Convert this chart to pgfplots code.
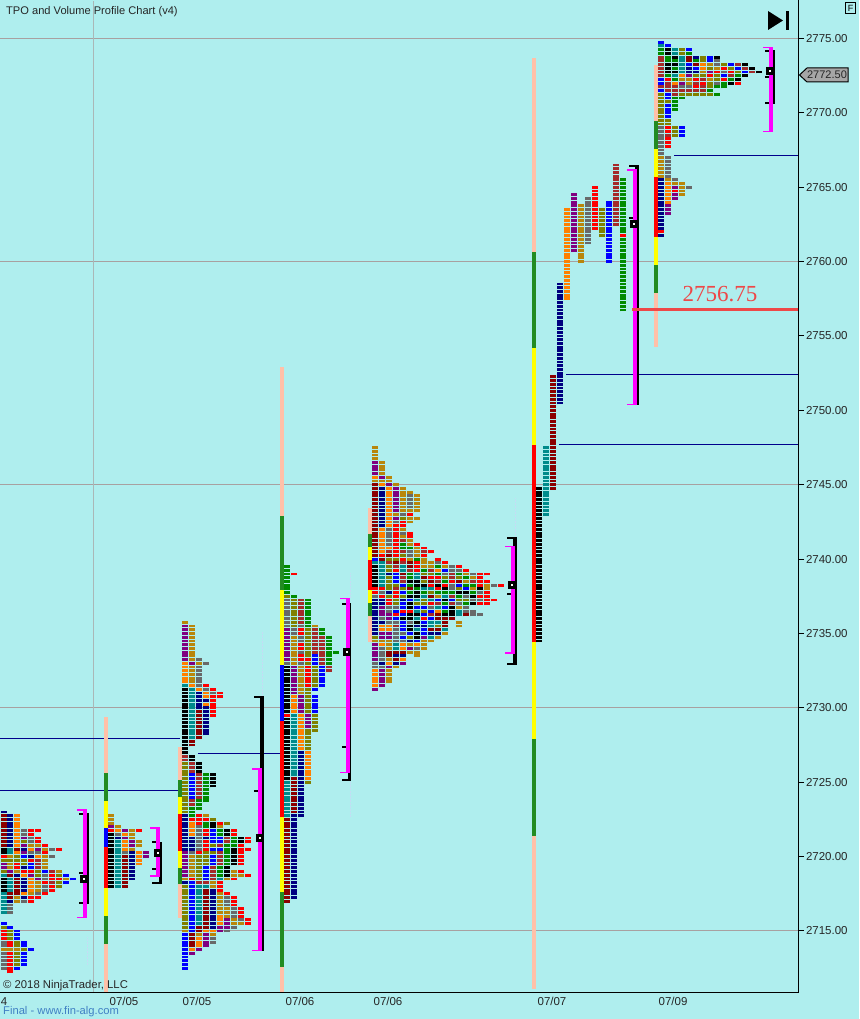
\documentclass[border=0pt]{standalone}
\usepackage{pgfplots}
\pgfplotsset{compat=1.18}
\usepackage{fontspec}
\setmainfont{Liberation Sans}
\newfontfamily\tfont{Liberation Serif}
\definecolor{bgc}{HTML}{AFEEEE}
\definecolor{gridc}{HTML}{A8A0A0}
\definecolor{nvc}{HTML}{000080}
\definecolor{blc}{HTML}{0000FF}
\definecolor{tec}{HTML}{008B8B}
\definecolor{drc}{HTML}{8B0000}
\definecolor{brc}{HTML}{A52A2A}
\definecolor{rdc}{HTML}{FF0000}
\definecolor{ogc}{HTML}{FF8000}
\definecolor{goc}{HTML}{B8860B}
\definecolor{olc}{HTML}{808000}
\definecolor{gyc}{HTML}{696969}
\definecolor{puc}{HTML}{800080}
\definecolor{gnc}{HTML}{008B00}
\definecolor{fgc}{HTML}{228B22}
\definecolor{pkc}{HTML}{FFC0A8}
\definecolor{lnc}{HTML}{00008B}
\definecolor{fbc}{HTML}{C4DCF4}
\definecolor{lrc}{HTML}{EE4848}
\definecolor{ylc}{HTML}{FFFF00}
\definecolor{mgc}{HTML}{FF00FF}
\pgfplotsset{tpo/.style={line width=6pt,dash pattern=on 2.85pt off 0.86875pt,no markers}}
% one column of a profile: x and top price, then colour runs (rows of 0.25) going down
\newcount\rowno
\def\cx{0}
\newcommand\X[2]{\gdef\cx{#1}\pgfmathtruncatemacro\tmp{round(#2*4)}\global\rowno=\tmp\relax}
\newcommand\Run[2]{%
  \pgfmathsetmacro\hi{\the\rowno/4+0.0958}%
  \global\advance\rowno by -#2\relax
  \pgfmathsetmacro\lo{(\the\rowno+1)/4-0.0958}%
  \addplot[tpo,#1] coordinates {(\cx,\lo)(\cx,\hi)};}
\def\Sk#1{\global\advance\rowno by -#1\relax}
\def\Nv#1{\Run{nvc}{#1}}
\def\Bl#1{\Run{blc}{#1}}
\def\Te#1{\Run{tec}{#1}}
\def\Bk#1{\Run{black}{#1}}
\def\Dr#1{\Run{drc}{#1}}
\def\Br#1{\Run{brc}{#1}}
\def\Rd#1{\Run{rdc}{#1}}
\def\Og#1{\Run{ogc}{#1}}
\def\Go#1{\Run{goc}{#1}}
\def\Ol#1{\Run{olc}{#1}}
\def\Gy#1{\Run{gyc}{#1}}
\def\Pu#1{\Run{puc}{#1}}
\def\Gn#1{\Run{gnc}{#1}}
% solid bar, horizontal line, point of control
\newcommand\V[5]{\addplot[#1,line width=#5pt,no markers] coordinates {(#2,#3)(#2,#4)};}
\newcommand\Hl[5]{\addplot[#1,line width=#5pt,no markers] coordinates {(#2,#4)(#3,#4)};}
\newcommand\Poc[2]{\addplot[only marks,mark=square*,mark size=2.5pt,mark options={fill=white,draw=black,line width=3pt}] coordinates {(#1,#2)};}
\newcommand\Fb[3]{\addplot[fbc,line width=1pt,dash pattern=on 2pt off 1pt,no markers] coordinates {(#1,#2)(#1,#3)};}
\begin{document}
\begin{tikzpicture}
\path[use as bounding box,fill=bgc] (0pt,-26pt) rectangle (859pt,993pt);
\begin{axis}[
    scale only axis,
    width=798pt,height=993pt,
    xmin=0,xmax=798,
    ymin=2710.832,ymax=2777.588,
    axis x line*=bottom,axis y line*=right,
    axis line style={black,line width=1pt,-},
    xtick={4,124,197,300,388,552,673},
    xticklabels={4,07/05,07/05,07/06,07/06,07/07,07/09},
    ytick={2715,2720,2725,2730,2735,2740,2745,2750,2755,2760,2765,2770,2775},
    tick align=outside,
    major tick length=6pt,
    x tick style={draw=none},
    y tick style={black,line width=1pt},
    tick label style={font=\fontsize{11.5}{12}\selectfont,text=black!85},
    xticklabel style={yshift=5pt},
    yticklabel style={xshift=-1.5pt},
    /pgf/number format/assume math mode=true,
    y tick label style={/pgf/number format/.cd,fixed,fixed zerofill,precision=2,1000 sep={}},
]
% grid every 15 points, one vertical
\Hl{gridc}{0}{798}{2775}{1}
\Hl{gridc}{0}{798}{2760}{1}
\Hl{gridc}{0}{798}{2745}{1}
\Hl{gridc}{0}{798}{2730}{1}
\Hl{gridc}{0}{798}{2715}{1}
\V{gridc!70!bgc}{93.5}{2710.9}{2777.5}{1}
% level lines
\Hl{lnc}{0}{180}{2727.94}{1}
\Hl{lnc}{0}{180}{2724.45}{1}
\Hl{lnc}{198}{281}{2726.93}{1}
\Hl{lnc}{674}{798}{2767.13}{1}
\Hl{lnc}{566}{798}{2752.41}{1}
\Hl{lnc}{559}{798}{2747.71}{1}
% faint wicks
\Fb{262.7}{2730.7}{2735.1}
\Fb{87.5}{2712.7}{2714.6}
\Fb{350.5}{2737.4}{2739.07}
\Fb{350.5}{2722.66}{2725.15}
\Fb{515.5}{2741.4}{2744.1}
% profile 07/04 upper
\X{3.5}{2723}\Nv1\Dr9\Bk2\Rd1\Ol1\Pu2\Ol1\Te1\Bk4\Te6
\X{10}{2722.75}\Nv9\Te2\Go1\Ol1\Go2\Pu1\Dr1\Te4\Dr2\Nv1\Gy3
\X{17}{2722.75}\Og9\Dr1\Og1\Ol2\Rd2\Go1\Nv1\Dr5\Go2
\X{24}{2721.75}\Gy2\Pu1\Ol1\Pu1\Nv1\Pu1\Bl1\Ol2\Nv1\Rd1\Og1\Nv4\Og1\Nv1\Gy1
\X{31}{2721.75}\Rd2\Gy2\Go1\Og1\Gy1\Nv1\Rd1\Bl2\Rd1\Pu1\Og4\Go1\Rd2
\X{38}{2721.75}\Rd1\Sk1\Rd2\Go1\Pu1\Gy1\Og1\Br3\Ol2\Pu1\Go3\Gy1\Rd1
\X{45}{2720.75}\Rd1\Go1\Rd1\Go4\Bl1\Gy2\Rd1\Gy2\Rd1
\X{52}{2720.5}\Gy1\Sk1\Gy1\Sk3\Br1\Rd2\Br1\Rd2
\X{59}{2720.5}\Rd1\Sk5\Go1\Ol1\Rd1\Ol2
\X{66}{2718.75}\Bl1\Go1\Bl1
\X{73}{2718.5}\Bl1
% profile 07/04 lower
\X{3.5}{2715.5}\Bl1\Ol1\Rd3\Gy2\Go1\Gy5
\X{10}{2715.25}\Bl1\Ol3\Rd2\Go1\Rd6
\X{17}{2715}\Bl3\Ol2\Go1\Ol4\Bl1
\X{24}{2714.25}\Bl2\Ol1\Bl4
\X{31}{2713.75}\Bl1
% profile 07/05 first
\X{111}{2722.75}\Go3\Pu1\Rd1\Bk{15}
\X{118}{2722}\Go1\Og1\Gy1\Nv1\Te{13}
\X{125}{2721.75}\Pu1\Og1\Pu1\Og3\Gy1\Dr9
\X{132}{2721.75}\Go3\Pu2\Go1\Nv8
\X{139}{2721.75}\Rd1\Sk2\Go2\Sk1\Og4
\X{146}{2720.25}\Pu2
% profile 07/05 second
\X{185}{2735.75}\Go1\Pu{10}\Og6\Te1\Bk{18}\Br2\Ol{14}\Nv9\Nv1\Pu7\Go1\Nv1\Ol{12}\Go1\Bl{10}
\X{192}{2735.5}\Go{10}\Pu1\Go5\Og1\Te{14}\Dr2\Sk2\Bk2\Br3\Bl7\Br2\Gn3\Rd1\Og4\Nv4\Gy1\Go6\Rd1\Bl{14}\Dr4\Og1\Pu1
\X{199}{2733.25}\Gy1\Go1\Gy6\Og1\Nv5\Dr8\Sk6\Bk3\Br7\Gn3\Sk1\Rd3\Gy7\Rd1\Ol7\Br1\Te{11}\Dr2\Go1\Og3\Pu1
\X{206}{2733}\Gy1\Sk5\Rd1\Gy1\Og2\Nv1\Og1\Nv8\Sk{10}\Gn8\Sk3\Go1\Rd1\Gn2\Rd2\Nv1\Rd3\Ol4\Bl4\Br1\Te1\Dr{11}\Og1\Pu4
\X{213}{2731.25}\Rd1\Gy1\Rd6\Sk{15}\Bk4\Sk8\Ol1\Bk2\Bl4\Ol1\Bl1\Ol1\Bl3\Br4\Go2\Nv{11}\Og1\Go1\Gy2
\X{220}{2731}\Rd2\Sk{33}\Rd1\Go1\Gn2\Bl2\Br1\Bl1\Br4\Gn3\Te1\Rd3\Go6\Og3\Pu2
\X{227}{2722.25}\Ol1\Sk1\Bk2\Br2\Gn6\Bk3\Go1\Sk3\Rd1\Gy3\Go3\Pu3\Gy1
\X{234}{2721.75}\Rd2\Gn3\Bk5\Sk1\Go2\Rd1\Sk4\Rd3\Gy3\Go2\Gy1
\X{241}{2721.25}\Bk2\Rd6\Sk1\Rd1\Go1\Sk8\Rd3\Gy1\Go1
\X{248}{2721.25}\Rd2\Sk1\Rd1\Sk6\Rd1\Sk{11}\Rd2
% profile 07/06 first
\X{287}{2739.5}\Gn8\Ol1\Gy8\Pu9\Gy1\Bk{13}\Rd1\Bk{17}\Te{10}\Dr{23}
\X{294}{2739}\Rd1
\X{294}{2737.5}\Gn1\Ol8\Gy2\Go8\Pu8\Og5\Te{17}\Dr{10}\Nv{23}
\X{301}{2737.25}\Br7\Gy1\Rd2\Gy2\Rd2\Gy1\Rd2\Gy1\Go8\Pu5\Og{10}\Nv{18}
\X{308}{2737.25}\Gn8\Ol8\Rd1\Ol1\Rd6\Ol7\Pu4\Ol6\Og8\Ol1
\X{315}{2735.5}\Go1\Br7\Bl3\Ol6\Bl1\Sk1\Bl5\Ol5
\X{322}{2735.25}\Gn2\Br8\Bl6
\X{329}{2734.75}\Gn8\Br2
\X{336}{2733.75}\Gn1
% profile 07/06 second
\X{375}{2747.5}\Go4\Pu4\Og1\Go1\Dr{20}\Bl1\Te1\Bk6\Rd2\Gy1\Nv{10}\Ol1\Go1\Pu5\Gy2\Og5\Pu1
\X{382}{2746.5}\Go4\Pu1\Go1\Og1\Nv{11}\Og7\Rd1\Dr1\Te7\Rd1\Gy1\Rd1\Nv2\Pu3\Gy1\Nv1\Og2\Pu2\Go1\Og1\Gy4\Nv1\Gy1\Pu5
\X{389}{2745.5}\Go2\Pu1\Og{11}\Gy5\Og1\Br1\Dr1\Ol1\Br1\Ol2\Nv1\Ol4\Nv1\Ol1\Rd2\Gy2\Pu2\Gy1\Og2\Pu2\Go3\Dr2\Go1\Og1\Pu1\Go4
\X{396}{2745}\Go1\Pu7\Go1\Pu1\Gy1\Rd9\Ol1\Dr1\Br1\Rd1\Bl3\Ol1\Br1\Rd2\Ol2\Gy1\Bl1\Rd1\Bl1\Gy1\Br1\Gy4\Te2\Dr1\Nv1\Dr1\Nv1\Go1
\X{403}{2744.75}\Go7\Gy1\Ol1\Rd2\Go1\Gy1\Go1\Br1\Gn2\Br1\Ol1\Rd1\Br1\Te2\Dr1\Br2\Bl1\Ol1\Bl1\Ol1\Nv1\Bl2\Rd1\Bl1\Bk1\Bl3\Gy1\Bl1\Gy1\Og2\Dr1\Nv1\Og1\Pu1
\X{410}{2744.5}\Go1\Gy4\Go1\Rd1\Go2\Sk2\Rd2\Go2\Gn1\Gy2\Go1\Dr2\Br1\Gn2\Bk1\Gn1\Dr1\Gn1\Bk1\Bl1\Bk2\Rd1\Bk2\Gy1\Bk2\Bl1\Ol1\Nv1\Go1\Pu1\Go1
\X{417}{2744.25}\Go5\Sk1\Go1\Sk6\Rd1\Go3\Gn1\Rd3\Te2\Bk2\Gn1\Bk2\Te1\Ol1\Bl1\Te1\Bk1\Te1\Bk1\Nv1\Te1\Bk2\Bl1\Og1\Gy1\Go2
\X{424}{2740.75}\Rd1\Br1\Rd1\Go3\Gn1\Ol1\Dr1\Ol1\Bk1\Te1\Gn1\Te1\Ol2\Bl1\Ol1\Bl1\Rd1\Bl1\Nv1\Bl2\Pu1\Go3
\X{431}{2740.5}\Rd1\Sk2\Go2\Br1\Ol1\Rd1\Dr1\Rd1\Te1\Ol1\Dr1\Te1\Rd1\Gy1\Bl1\Br1\Bl1\Te2\Dr1\Nv1\Te1\Go1
\X{438}{2740}\Rd1\Gy1\Gn1\Og1\Gn1\Rd1\Br1\Bk1\Rd1\Gn1\Go1\Bl1\Br1\Te1\Og1\Dr2\Te1\Ol1\Dr1\Nv1\Go1
\X{445}{2739.75}\Rd1\Go1\Bl1\Gy1\Ol1\Gn1\Rd1\Bk1\Gn1\Te1\Bk1\Gn1\Bl1\Gn1\Bk1\Dr3\Te1\Go1
\X{452}{2739.5}\Gy2\Br2\Rd1\Gy2\Gn1\Br1\Bl1\Br1\Bk3\Dr1
\X{459}{2739.5}\Rd1\Gy1\Gn1\Ol1\Dr1\Bl1\Ol1\Bk1\Gn1\Ol1\Gy1\Go1\Te2\Sk1\Go2
\X{466}{2739.25}\Rd1\Go1\Gn1\Go1\Gn1\Bl1\Bk1\Gy1\Ol1\Gn1\Gy2\Dr1
\X{473}{2739}\Gy1\Go1\Br1\Gn1\Go1\Gn1\Bk1\Gy1\Bk1\Sk1\Gy2
\X{480}{2739}\Rd4\Bk1\Gy1\Rd1\Gy1\Rd1\Sk2\Gy1
\X{487}{2739}\Rd1\Sk1\Rd1\Go2\Rd4
\X{494}{2738.25}\Gy1\Sk3\Rd1
\X{501}{2738.25}\Rd1
% profile 07/07
\X{539}{2744.75}\Bk{42}
\X{546}{2747.5}\Te{19}
\X{553}{2752.25}\Dr{31}
\X{560}{2758.5}\Nv{33}
\X{567}{2763.5}\Og{25}
\X{574}{2764.5}\Pu{16}
\X{581}{2763.75}\Go{16}
\X{588}{2764.25}\Gy{13}
\X{595}{2765}\Rd{12}
\X{602}{2763.5}\Ol8
\X{609}{2764}\Bl{17}
\X{616}{2766.5}\Br{17}
\X{623}{2765.5}\Gn{15}\Rd1\Gn{20}
% profile 07/09
\X{661}{2774.75}\Bl1\Te1\Gn2\Br6\Bl2\Br1\Bl1\Ol9\Gy8\Go6\Nv{14}\Rd1\Nv1
\X{668}{2774.5}\Bl1\Bk2\Gn2\Bk3\Gn1\Rd1\Br3\Bl2\Ol1\Bl4\Ol2\Rd2\Br1\Rd3\Sk2\Gy6\Go1\Og6\Pu3
\X{675}{2774.25}\Te2\Bk1\Gn1\Bk1\Gn1\Bk1\Te1\Gn1\Og1\Br3\Gn4\Sk4\Ol3\Sk{11}\Gy1\Go1\Pu1\Rd1\Pu2
\X{682}{2774.25}\Ol2\Te5\Og1\Go1\Pu1\Gy1\Br1\Ol1\Gn1\Sk7\Bl3\Sk{12}\Go4
\X{689}{2774.25}\Bl1\Gn1\Dr2\Bl1\Nv2\Pu1\Go2\Gy1\Br1\Ol1\Sk{24}\Gy1
\X{696}{2773.75}\Nv1\Gn1\Dr1\Bl1\Nv1\Ol1\Rd1\Br1\Rd1\Br1\Ol1
\X{703}{2773.75}\Ol2\Og2\Go1\Ol1\Br1\Rd1\Br2\Ol1
\X{710}{2773.75}\Bl2\Go1\Ol1\Pu1\Rd1\Go1\Ol2\Gn1\Ol1
\X{717}{2773.75}\Bk1\Gy2\Go1\Rd1\Ol2\Gy1\Gn1\Sk1\Gn1
\X{724}{2773.25}\Ol1\Rd1\Gy1\Bl1\Rd1\Gn2
\X{731}{2773.25}\Bl1\Ol1\Rd1\Br1\Gn1\Bk1
\X{738}{2773.25}\Br1\Bl1\Ol1\Gn1\Bk1\Rd1
\X{745}{2773.25}\Bk1\Br1\Bl1\Bk1
\X{752}{2773}\Bk1\Br1
\X{759}{2772.75}\Bk1
% session colour bars
\V{pkc}{105.8}{2725.62}{2729.36}{4.3}\V{fgc}{105.8}{2723.74}{2725.62}{4.3}\V{ylc}{105.8}{2721.92}{2723.74}{4.3}\V{blc}{105.8}{2720.65}{2721.92}{4.3}\V{rdc}{105.8}{2717.89}{2720.65}{4.3}\V{ylc}{105.8}{2716}{2717.89}{4.3}\V{fgc}{105.8}{2714.13}{2716}{4.3}\V{pkc}{105.8}{2710.92}{2714.13}{4.3}
\V{pkc}{180}{2725.15}{2727.35}{4}\V{fgc}{180}{2724}{2725.15}{4}\V{ylc}{180}{2722.87}{2724}{4}\V{rdc}{180}{2720.38}{2722.87}{4}\V{ylc}{180}{2719.24}{2720.38}{4}\V{fgc}{180}{2718.16}{2719.24}{4}\V{pkc}{180}{2715.87}{2718.16}{4}
\V{pkc}{282}{2742.9}{2752.92}{4}\V{fgc}{282}{2737.93}{2742.9}{4}\V{ylc}{282}{2732.9}{2737.93}{4}\V{blc}{282}{2729.1}{2732.9}{4}\V{rdc}{282}{2722.66}{2729.1}{4}\V{ylc}{282}{2717.6}{2722.66}{4}\V{fgc}{282}{2712.6}{2717.6}{4}\V{pkc}{282}{2710.9}{2712.6}{4}
\V{pkc}{370}{2741.7}{2743.44}{4}\V{fgc}{370}{2740.8}{2741.7}{4}\V{ylc}{370}{2739.95}{2740.8}{4}\V{rdc}{370}{2737.93}{2739.95}{4}\V{ylc}{370}{2737.07}{2737.93}{4}\V{fgc}{370}{2736.2}{2737.07}{4}\V{pkc}{370}{2734.43}{2736.2}{4}
\V{pkc}{534}{2760.67}{2773.7}{4}\V{fgc}{534}{2754.2}{2760.67}{4}\V{ylc}{534}{2747.67}{2754.2}{4}\V{rdc}{534}{2734.43}{2747.67}{4}\V{ylc}{534}{2727.9}{2734.43}{4}\V{fgc}{534}{2721.4}{2727.9}{4}\V{pkc}{534}{2711.1}{2721.4}{4}
\V{pkc}{656}{2769.45}{2773.2}{4}\V{fgc}{656}{2767.57}{2769.45}{4}\V{ylc}{656}{2765.69}{2767.57}{4}\V{rdc}{656}{2761.65}{2765.69}{4}\V{ylc}{656}{2759.77}{2761.65}{4}\V{fgc}{656}{2757.9}{2759.77}{4}\V{pkc}{656}{2754.26}{2757.9}{4}
% value area brackets: black then magenta, ticks and point of control
\V{black}{88}{2716.82}{2722.93}{2.5}\Hl{black}{79}{84}{2722.87}{2}\Hl{black}{79}{84}{2718.9}{2}\Hl{black}{79}{84}{2716.9}{2}
\V{mgc}{85}{2715.87}{2723.2}{4}\Hl{mgc}{77}{87}{2723.15}{1.6}\Hl{mgc}{77}{87}{2715.92}{1.6}\Poc{84}{2718.5}
\V{black}{160.5}{2718.16}{2720.98}{3}\Hl{black}{152}{157}{2720.95}{2}\Hl{black}{152}{157}{2719.2}{2}\Hl{black}{152}{162}{2718.2}{2}
\V{mgc}{158}{2718.63}{2721.97}{4}\Hl{mgc}{150}{160}{2721.92}{1.6}\Hl{mgc}{150}{160}{2718.68}{1.6}\Poc{157.5}{2720.25}
\V{black}{262}{2713.66}{2730.73}{4}\Hl{black}{254}{264}{2730.7}{2}\Hl{black}{254}{258}{2724.4}{2}
\V{mgc}{260}{2713.66}{2725.94}{4}\Hl{mgc}{252}{262}{2725.9}{1.6}\Hl{mgc}{252}{262}{2713.7}{1.6}\Poc{259.5}{2721.25}
\V{black}{349.5}{2725.15}{2737}{3}\Hl{black}{342}{351}{2725.15}{2}\Hl{black}{342}{346}{2727.4}{2}\Hl{black}{342}{351}{2737}{2}
\V{mgc}{348}{2725.62}{2737.4}{4}\Hl{mgc}{340}{350}{2737.35}{1.6}\Hl{mgc}{340}{350}{2725.66}{1.6}\Poc{347}{2733.75}
\V{black}{515}{2732.9}{2741.42}{4}\Hl{black}{507}{517}{2741.4}{2}\Hl{black}{507}{517}{2732.95}{2}\Hl{black}{507}{511}{2737.65}{2}
\V{mgc}{513}{2733.63}{2740.88}{4}\Hl{mgc}{505}{515}{2740.84}{1.6}\Hl{mgc}{505}{515}{2733.67}{1.6}\Poc{512}{2738.25}
\V{black}{637}{2750.36}{2766.5}{4}\Hl{black}{629}{639}{2766.45}{2}\Hl{black}{629}{633}{2762.9}{2}
\V{mgc}{635}{2750.36}{2766.2}{4}\Hl{mgc}{627}{637}{2766.15}{1.6}\Hl{mgc}{627}{637}{2750.4}{1.6}\Poc{634}{2762.53}
\V{black}{773}{2770.6}{2774.2}{4}\Hl{black}{765}{769}{2774.15}{2}\Hl{black}{765}{769}{2772.43}{2}\Hl{black}{765}{769}{2770.68}{2}
\V{mgc}{771}{2768.7}{2774.45}{4}\Hl{mgc}{763}{773}{2774.4}{1.6}\Hl{mgc}{763}{773}{2768.74}{1.6}\Poc{770}{2772.83}
% marked level
\Hl{lrc}{632}{798}{2756.75}{3}
\end{axis}
\node[text=lrc,font=\tfont\fontsize{23}{24}\selectfont] at (720pt,699pt) {2756.75};
\node[anchor=west,inner sep=0pt,text=black!85,font=\fontsize{11.1}{12}\selectfont] at (6pt,981pt) {TPO and Volume Profile Chart (v4)};
\node[anchor=west,inner sep=0pt,text=black!85,font=\fontsize{11.3}{12}\selectfont] at (3pt,7pt) {© 2018 NinjaTrader, LLC};
\node[anchor=west,inner sep=0pt,text={rgb,255:red,64;green,128;blue,196},font=\fontsize{11.2}{12}\selectfont] at (3pt,-19pt) {Final - www.fin-alg.com};
% end-of-data icon, F box, price tag
\fill[black] (768pt,982pt) -- (783pt,972.5pt) -- (768pt,963pt) -- cycle;
\fill[black] (786pt,963pt) rectangle (789pt,982pt);
\draw[black,line width=1pt,fill=bgc] (845.5pt,979pt) rectangle (855.5pt,990pt);
\node[inner sep=0pt,font=\fontsize{9}{9}\selectfont] at (850.5pt,984.5pt) {F};
\draw[black,line width=1pt,fill={rgb,255:red,166;green,166;blue,166}] (799.5pt,918pt) -- (807pt,925pt) -- (848pt,925pt) -- (848pt,911pt) -- (807pt,911pt) -- cycle;
\node[inner sep=0pt,text=black!85,font=\fontsize{11}{12}\selectfont] at (827pt,918pt) {2772.50};
\end{tikzpicture}
\end{document}
